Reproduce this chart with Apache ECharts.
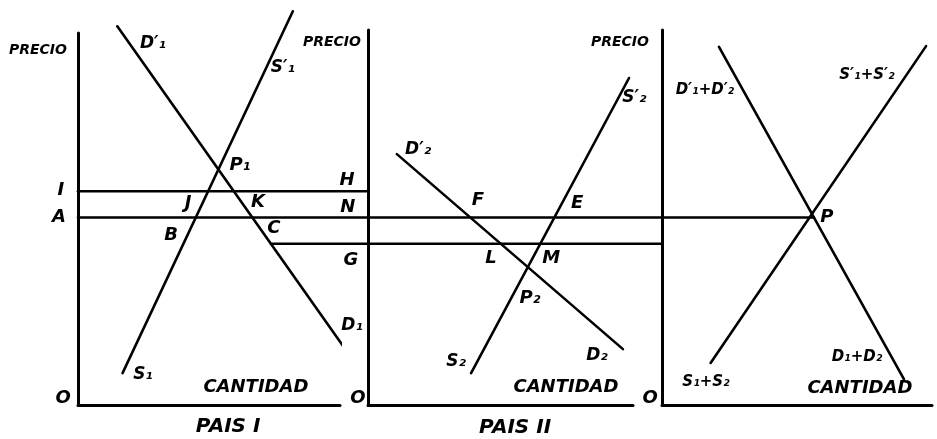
<!DOCTYPE html>
<html><head><meta charset="utf-8">
<script src="https://cdn.jsdelivr.net/npm/echarts@6/dist/echarts.min.js"></script>
<style>html,body{margin:0;padding:0;background:#fff}#c{width:937px;height:439px}</style>
</head><body><div id="c"></div>
<script>
// ---- data ----
const levelNames = ['I', 'A', 'G'];
const levelValues = [57, 50, 43];
// País I
const paisIDemand = [[15, 101], [101.9, 15]];   // D'1 -> D1
const paisISupply = [[17, 8.5], [82, 105]];     // S1 -> S'1
// País II
const paisIIDemand = [[10.9, 66.9], [96.2, 14.9]]; // D'2 -> D2
const paisIISupply = [[38.9, 8.5], [98.5, 87.2]];  // S2 -> S'2
// Conjunto
const totalDemand = [[21.1, 95.5], [89.6, 6.9]];   // D'1+D'2 -> D1+D2
const totalSupply = [[18, 11.2], [97.8, 95.7]];    // S1+S2 -> S'1+S'2

const I = levelValues[0], A = levelValues[1], G = levelValues[2];
function xAtY(seg, y) {
  const [[x1, y1], [x2, y2]] = seg;
  return x1 + (y - y1) * (x2 - x1) / (y2 - y1);
}

// ---- layout ----
const grids = [
  { left: 78, top: 33, width: 262, height: 372 },
  { left: 368, top: 30, width: 265, height: 375 },
  { left: 662, top: 30, width: 270, height: 375 },
  { left: 0, top: 30, width: 937, height: 375 }   // overlay for the price levels
];
const yMax = [99.2, 100, 100, 100];

const FONT = 'DejaVu Sans';
const styles = {
  pt: { fontSize: 18 },
  small: { fontSize: 14 },
  cant: { fontSize: 18 },
  pais: { fontSize: 20 },
  curve: { fontSize: 17 },
  sum: { fontSize: 15 }
};
const notes = [
  [
    ['PRECIO', -15.3, 94.7, 'small'], ['D′₁', 28.6, 96.5, 'curve'], ['S′₁', 78.2, 89.9, 'curve'],
    ['P₁', 61.8, 64, 'pt'], ['I', -6.5, 57.3, 'pt'], ['A', -7.3, 50.1, 'pt'],
    ['J', 42, 53.9, 'pt'], ['K', 68.7, 54.1, 'pt'], ['B', 35.5, 45.3, 'pt'], ['C', 74.8, 47.2, 'pt'],
    ['S₁', 24.8, 8, 'curve'], ['CANTIDAD', 67.9, 4.8, 'cant'], ['O', -5.7, 1.9, 'pt'],
    ['PAIS I', 57.3, -5.9, 'pais'], ['D₁', 104.6, 21.3, 'curve'],
    ['H', 102.7, 60, 'pt'], ['N', 103, 52.8, 'pt'], ['G', 104.2, 38.7, 'pt']
  ],
  [
    ['PRECIO', -13.6, 96.8, 'small'], ['D′₂', 18.9, 68, 'curve'], ['F', 41.5, 54.7, 'pt'],
    ['E', 78.9, 53.9, 'pt'], ['L', 46.4, 39.2, 'pt'], ['M', 69.1, 39.2, 'pt'],
    ['P₂', 61.1, 28.5, 'pt'], ['S₂', 33.2, 11.5, 'curve'], ['D₂', 86.4, 13.1, 'curve'],
    ['CANTIDAD', 74.7, 4.8, 'cant'], ['O', -3.8, 1.9, 'pt'], ['PAIS II', 55.5, -6.1, 'pais'],
    ['S′₂', 100.5, 82, 'curve']
  ],
  [
    ['PRECIO', -15.6, 96.8, 'small'], ['D′₁+D′₂', 15.9, 84, 'sum'], ['S′₁+S′₂', 75.9, 88, 'sum'],
    ['P', 61.1, 50.1, 'pt'], ['S₁+S₂', 16.3, 6.1, 'sum'], ['D₁+D₂', 72.2, 12.8, 'sum'],
    ['CANTIDAD', 73.3, 4.5, 'cant'], ['O', -4.4, 1.9, 'pt']
  ]
];

// ---- series ----
const lineW = 2.6;
function seg(gi, data, w) {
  return {
    type: 'line', xAxisIndex: gi, yAxisIndex: gi, data: data, symbol: 'none',
    clip: false, silent: true, animation: false,
    lineStyle: { color: '#000', width: w || lineW, cap: 'round' }
  };
}
const series = [
  seg(0, paisIDemand), seg(0, paisISupply),
  seg(1, paisIIDemand), seg(1, paisIISupply),
  seg(2, totalDemand), seg(2, totalSupply)
];
notes.forEach((list, gi) => {
  series.push({
    type: 'scatter', xAxisIndex: gi, yAxisIndex: gi, symbolSize: 0, clip: false,
    silent: true, animation: false, itemStyle: { color: '#000', opacity: 1 },
    data: list.map(n => ({
      name: n[0], value: [n[1], n[2]],
      label: Object.assign({}, styles[n[3]])
    })),
    label: {
      show: true, position: [0, 0], align: 'center', verticalAlign: 'middle',
      formatter: p => p.name, color: '#000', opacity: 1,
      fontFamily: FONT, fontWeight: 'bold', fontStyle: 'italic',
      textBorderWidth: 0, textBorderColor: 'transparent'
    },
    labelLayout: { hideOverlap: false }
  });
});

const axisStyle = { show: true, onZero: true, lineStyle: { color: '#000', width: 3 } };
const hidden = { show: false };
const option = {
  backgroundColor: '#fff',
  animation: false,
  grid: grids.map(g => Object.assign({ containLabel: false }, g)),
  xAxis: grids.map((g, i) => ({
    type: 'value', gridIndex: i, min: 0, max: 100,
    axisLine: i < 3 ? axisStyle : hidden, axisTick: hidden, axisLabel: hidden, splitLine: hidden
  })),
  yAxis: grids.map((g, i) => ({
    type: 'value', gridIndex: i, min: 0, max: yMax[i],
    axisLine: i < 3 ? axisStyle : hidden, axisTick: hidden, axisLabel: hidden, splitLine: hidden
  })),
  series: series
};
const chart = echarts.init(document.getElementById('c'), null, { renderer: 'canvas' });
chart.setOption(option);

// price-level lines span several panels: map their ends into the overlay grid
function toOverlay(gi, x, y) {
  const p = chart.convertToPixel({ gridIndex: gi }, [x, y]);
  return chart.convertFromPixel({ gridIndex: 3 }, p);
}
const levelSegments = [
  [toOverlay(0, 0, I), toOverlay(1, 0, I)],                                    // I ... H
  [toOverlay(0, 0, A), toOverlay(2, xAtY(totalDemand, A), A)],                 // A ... P
  [toOverlay(0, xAtY(paisIDemand, G), G), toOverlay(2, 0, G)]                  // C ... G
];
chart.setOption({ series: series.concat(levelSegments.map(s => seg(3, s))) });
</script></body></html>
